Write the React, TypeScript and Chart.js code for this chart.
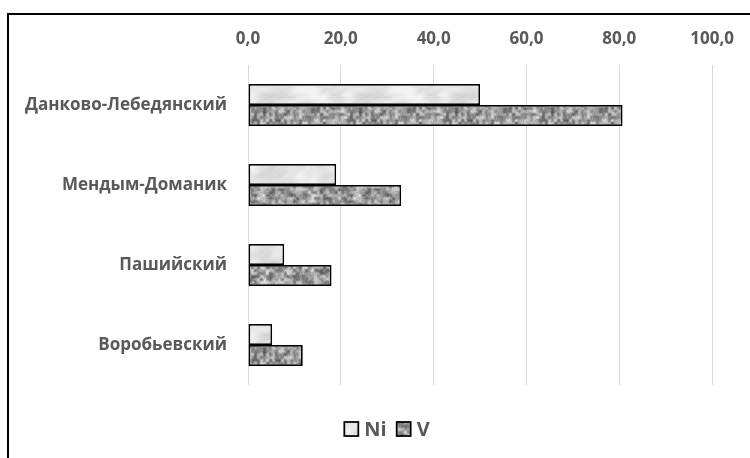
import React, { useEffect, useRef } from "react";
import { Chart, registerables } from "chart.js";

Chart.register(...registerables);

const categories = ["Данково-Лебедянский", "Мендым-Доманик", "Пашийский", "Воробьевский"];
const niValues = [50.0, 19.0, 7.8, 5.2];
const vValues = [80.7, 33.0, 18.0, 11.8];
const seriesNames = ["Ni", "V"];
const axisMin = 0;
const axisMax = 100;
const axisStep = 20;

const FONT = "'Open Sans', sans-serif";
const TEXT_COLOR = "#595959";

function hash(x: number, y: number, s: number) {
  const v = Math.sin(x * 12.9898 + y * 78.233 + s * 37.719) * 43758.5453;
  return v - Math.floor(v);
}

function valueNoise(x: number, y: number, s: number, px: number, py: number) {
  const x0 = Math.floor(x), y0 = Math.floor(y);
  const fx = x - x0, fy = y - y0;
  const sx = fx * fx * (3 - 2 * fx), sy = fy * fy * (3 - 2 * fy);
  const w = (a: number, p: number) => ((a % p) + p) % p;
  const a = hash(w(x0, px), w(y0, py), s);
  const b = hash(w(x0 + 1, px), w(y0, py), s);
  const c = hash(w(x0, px), w(y0 + 1, py), s);
  const d = hash(w(x0 + 1, px), w(y0 + 1, py), s);
  return (a * (1 - sx) + b * sx) * (1 - sy) + (c * (1 - sx) + d * sx) * sy;
}

function makePattern(kind: "ni" | "v"): CanvasPattern | string {
  const W = 96, H = 48;
  const c = document.createElement("canvas");
  c.width = W; c.height = H;
  const ctx = c.getContext("2d");
  if (!ctx) return kind === "ni" ? "#dedede" : "#a0a0a0";
  const img = ctx.createImageData(W, H);
  for (let y = 0; y < H; y++) {
    for (let x = 0; x < W; x++) {
      let v: number;
      if (kind === "ni") {
        const n1 = valueNoise(x / 12, y / 8, 1, W / 12, H / 8);
        const n2 = valueNoise((x + y) / 6, y / 6, 2, (W / 6) * 3, H / 6);
        v = 214 + 28 * n1 + 12 * (n2 - 0.5) + 5 * (hash(x, y, 3) - 0.5);
      } else {
        const n1 = valueNoise(x / 3, y / 3, 4, W / 3, H / 3);
        const n2 = valueNoise(x / 8, y / 8, 5, W / 8, H / 8);
        v = 152 + 110 * (n1 - 0.5) + 45 * (n2 - 0.5) + 26 * (hash(x, y, 6) - 0.5);
      }
      v = Math.max(55, Math.min(245, v));
      const i = (y * W + x) * 4;
      img.data[i] = v; img.data[i + 1] = v; img.data[i + 2] = v; img.data[i + 3] = 255;
    }
  }
  ctx.putImageData(img, 0, 0);
  const p = ctx.createPattern(c, "repeat");
  return p || (kind === "ni" ? "#dedede" : "#a0a0a0");
}

export default function App() {
  const ref = useRef<HTMLCanvasElement | null>(null);

  useEffect(() => {
    const canvas = ref.current;
    if (!canvas) return;
    const niFill = makePattern("ni");
    const vFill = makePattern("v");
    const fills = [niFill, vFill];

    const legendPlugin = {
      id: "customLegend",
      afterDraw(chart: any) {
        const ctx = chart.ctx as CanvasRenderingContext2D;
        ctx.save();
        ctx.font = `bold 20px ${FONT}`;
        const box = 14;
        const gapBoxText = 6;
        const gapItems = 10;
        const widths = seriesNames.map((n) => box + gapBoxText + ctx.measureText(n).width);
        const total = widths.reduce((a, b) => a + b, 0) + gapItems * (seriesNames.length - 1);
        let x = 387 - total / 2;
        const cy = 429;
        seriesNames.forEach((n, i) => {
          ctx.fillStyle = fills[i] as any;
          ctx.fillRect(x, cy - box / 2, box, box);
          ctx.lineWidth = 1.75;
          ctx.strokeStyle = "#000";
          ctx.strokeRect(x, cy - box / 2, box, box);
          ctx.fillStyle = TEXT_COLOR;
          ctx.textBaseline = "middle";
          ctx.textAlign = "left";
          ctx.fillText(n, x + box + gapBoxText, cy + 1);
          x += widths[i] + gapItems;
        });
        ctx.restore();
      },
    };

    const chart = new Chart(canvas, {
      type: "bar",
      data: {
        labels: categories,
        datasets: [
          {
            label: seriesNames[0],
            data: niValues,
            backgroundColor: niFill as any,
            borderColor: "#000",
            borderWidth: 1.75,
            borderSkipped: false,
            categoryPercentage: 0.525,
            barPercentage: 1,
          },
          {
            label: seriesNames[1],
            data: vValues,
            backgroundColor: vFill as any,
            borderColor: "#000",
            borderWidth: 1.75,
            borderSkipped: false,
            categoryPercentage: 0.525,
            barPercentage: 1,
          },
        ],
      },
      options: {
        indexAxis: "y",
        responsive: false,
        animation: false,
        layout: { padding: { left: 0, top: 0, right: 37, bottom: 73 } },
        plugins: {
          legend: { display: false },
          tooltip: { enabled: false },
        },
        scales: {
          x: {
            position: "top",
            min: axisMin,
            max: axisMax,
            ticks: {
              stepSize: axisStep,
              padding: 16,
              color: TEXT_COLOR,
              font: { family: FONT, size: 17, weight: "bold" },
              callback: (v: any) => Number(v).toFixed(1).replace(".", ","),
            },
            grid: { color: "#d9d9d9", lineWidth: 1, drawTicks: false },
            border: { display: false },
            afterFit: (s: any) => { s.height = 65; },
          },
          y: {
            ticks: {
              padding: 21,
              color: TEXT_COLOR,
              font: { family: FONT, size: 17, weight: "bold" },
            },
            grid: { display: false, drawTicks: false },
            border: { display: false },
            afterFit: (s: any) => { s.width = 248; },
          },
        },
      },
      plugins: [legendPlugin],
    } as any);
    return () => chart.destroy();
  }, []);

  return (
    <div style={{ position: "fixed", left: 0, top: 0, width: 750, height: 458, background: "#fff", overflow: "hidden" }}>
      <canvas ref={ref} width={750} height={458} style={{ position: "absolute", left: 0, top: 0 }} />
      <div
        style={{
          position: "absolute",
          left: 7,
          top: 13,
          width: 800,
          height: 500,
          borderLeft: "2px solid #000",
          borderTop: "2px solid #000",
          pointerEvents: "none",
        }}
      />
    </div>
  );
}
